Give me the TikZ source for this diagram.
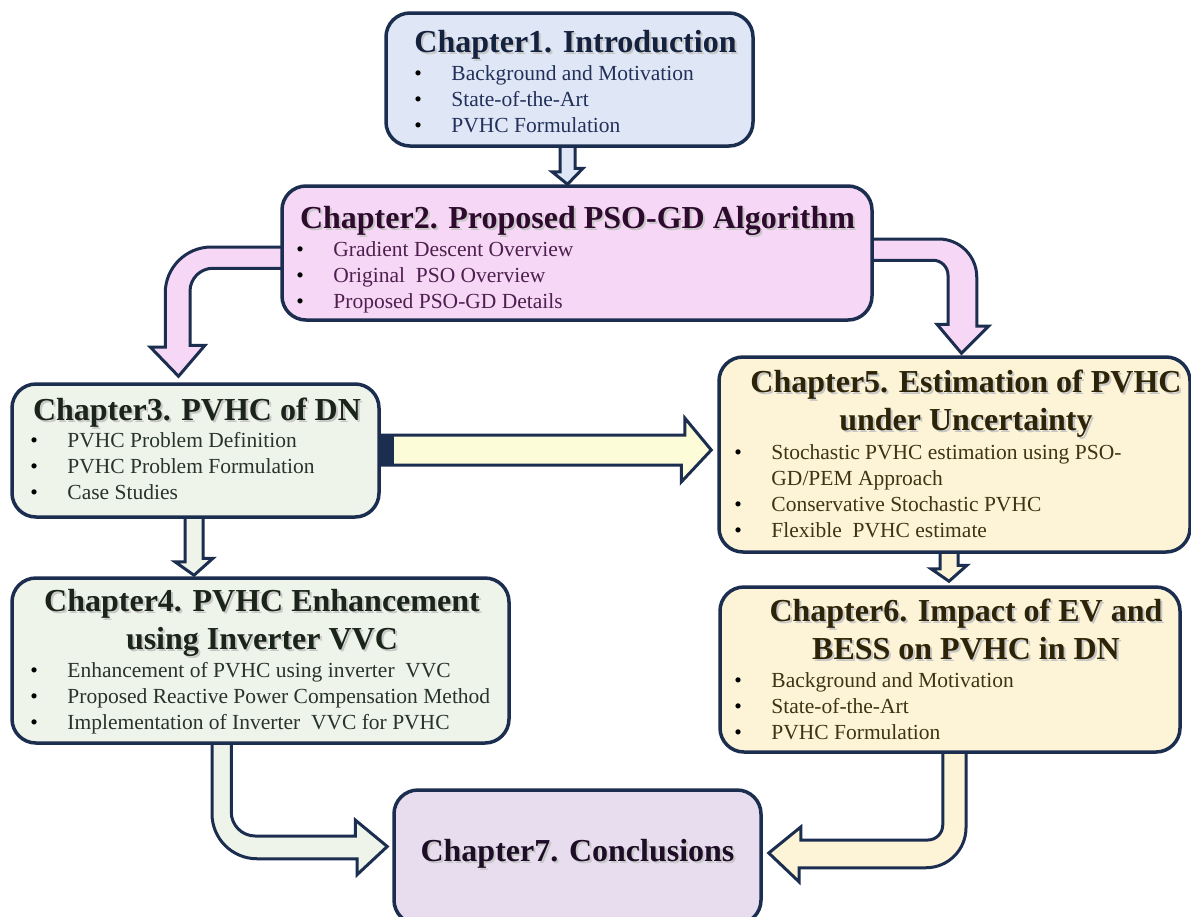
\documentclass[tikz,border=0pt]{standalone}
\usepackage{fontspec}
\setmainfont{Liberation Serif}
\usetikzlibrary{calc,backgrounds}

\definecolor{navy}{HTML}{1C2E50}
\definecolor{bluefill}{HTML}{DFE7F6}
\definecolor{pinkfill}{HTML}{F6D8F6}
\definecolor{greenfill}{HTML}{EFF4EA}
\definecolor{creamfill}{HTML}{FDF4D8}
\definecolor{lilacfill}{HTML}{E8DDEF}
\definecolor{lemonfill}{HTML}{FDFCD8}
\definecolor{bluetext}{HTML}{14213F}
\definecolor{blueitem}{HTML}{22305A}
\definecolor{pinktext}{HTML}{2E0A2E}
\definecolor{pinkitem}{HTML}{4E1F4E}
\definecolor{greentext}{HTML}{1A2419}
\definecolor{greenitem}{HTML}{28332A}
\definecolor{creamtext}{HTML}{2D2408}
\definecolor{creamitem}{HTML}{3E3312}
\definecolor{lilactext}{HTML}{1E0D26}

\newcommand{\shadowed}[1]{\leavevmode\rlap{\hspace{2pt}\raisebox{-2pt}{\color{black!22}#1}}#1}
\newcommand{\bul}{\makebox[37pt][l]{\color{black}\textbullet}}

\tikzset{
  chapter/.style={draw=navy, line width=3.5pt, rounded corners=24pt, inner sep=0pt},
  chaptitle/.style={font=\fontsize{32}{38}\selectfont\bfseries, inner sep=0pt, anchor=base},
  chapitems/.style={font=\fontsize{21.5}{26}\selectfont, inner sep=0pt, anchor=base west},
  blockarrow/.style={draw=navy, line width=3pt, line join=miter},
}

\begin{document}
\begin{tikzpicture}[x=1pt,y=-1pt]
      \useasboundingbox (0,0) rectangle (1191,916);

      \node[chapter, fill=bluefill, minimum width=367pt, minimum height=133pt] (ch1) at (569.5,79.5) {};
      \node[chapter, fill=pinkfill, minimum width=590pt, minimum height=134pt] (ch2) at (577,253) {};
      \node[chapter, fill=greenfill, minimum width=367pt, minimum height=133pt] (ch3) at (195.5,450.5) {};
      \node[chapter, fill=greenfill, minimum width=497pt, minimum height=165pt] (ch4) at (260.5,660.5) {};
      \node[chapter, fill=creamfill, minimum width=471pt, minimum height=195pt] (ch5) at (954.5,454.5) {};
      \node[chapter, fill=creamfill, minimum width=460pt, minimum height=165pt] (ch6) at (950,669.5) {};
      \node[chapter, fill=lilacfill, minimum width=367pt, minimum height=134pt] (ch7) at (577.5,857) {};

      \node[chaptitle, text=bluetext] (ch1title) at ($(ch1.north)+(6,41)$) {\shadowed{Chapter1. Introduction}};
      \node[chapitems, text=blueitem] (ch1list) at ($(ch1.north west)+(30,69)$)
        {\begin{tabular}[t]{@{}l@{}}\bul Background and Motivation\\ \bul State-of-the-Art\\ \bul PVHC Formulation\end{tabular}};

      \node[chaptitle, text=pinktext] (ch2title) at ($(ch2.north)+(0.5,44)$) {\shadowed{Chapter2. Proposed PSO-GD Algorithm}};
      \node[chapitems, text=pinkitem] (ch2list) at ($(ch2.north west)+(16,72)$)
        {\begin{tabular}[t]{@{}l@{}}\bul Gradient Descent Overview\\ \bul Original\ \ PSO Overview\\ \bul Proposed PSO-GD Details\end{tabular}};

      \node[chaptitle, text=greentext] (ch3title) at ($(ch3.north)+(1.5,38)$) {\shadowed{Chapter3. PVHC of DN}};
      \node[chapitems, text=greenitem] (ch3list) at ($(ch3.north west)+(20,65)$)
        {\begin{tabular}[t]{@{}l@{}}\bul PVHC Problem Definition\\ \bul PVHC Problem Formulation\\ \bul Case Studies\end{tabular}};

      \node[chaptitle, text=greentext] (ch4title) at ($(ch4.north)+(1.5,35)$)
        {\begin{tabular}[t]{@{}c@{}}\shadowed{Chapter4. PVHC Enhancement}\\ \shadowed{using Inverter VVC}\end{tabular}};
      \node[chapitems, text=greenitem] (ch4list) at ($(ch4.north west)+(20,101)$)
        {\begin{tabular}[t]{@{}l@{}}\bul Enhancement of PVHC using inverter\ \ VVC\\ \bul Proposed Reactive Power Compensation Method\\ \bul Implementation of Inverter\ \ VVC for PVHC\end{tabular}};

      \node[chaptitle, text=creamtext] (ch5title) at ($(ch5.north)+(11.5,37)$)
        {\begin{tabular}[t]{@{}c@{}}\shadowed{Chapter5. Estimation of PVHC}\\ \shadowed{under Uncertainty}\end{tabular}};
      \node[chapitems, text=creamitem] (ch5list) at ($(ch5.north west)+(17,104)$)
        {\begin{tabular}[t]{@{}l@{}}\bul Stochastic PVHC estimation using PSO-\\ \hspace*{37pt}GD/PEM Approach\\ \bul Conservative Stochastic PVHC\\ \bul Flexible\ \ PVHC estimate\end{tabular}};

      \node[chaptitle, text=creamtext] (ch6title) at ($(ch6.north)+(16,36)$)
        {\begin{tabular}[t]{@{}c@{}}\shadowed{Chapter6. Impact of EV and}\\ \shadowed{BESS on PVHC in DN}\end{tabular}};
      \node[chapitems, text=creamitem] (ch6list) at ($(ch6.north west)+(16,102)$)
        {\begin{tabular}[t]{@{}l@{}}\bul Background and Motivation\\ \bul State-of-the-Art\\ \bul PVHC Formulation\end{tabular}};

      \node[chaptitle, text=lilactext] (ch7title) at ($(ch7.center)+(0,4)$) {\shadowed{Chapter7. Conclusions}};

      \begin{scope}[on background layer]
      \fill[white] (0,0) rectangle (1191,916);
      \draw[blockarrow, fill=bluefill] ($(ch1.south)+(-9.5,-20)$) -- ++(0,44) -- ++(-8,0)
        -- ($(ch1.south |- ch2.north)+(-2,0)$) -- ++(15.5,-16) -- ++(-8,0) -- ++(0,-44) -- cycle;
      \draw[blockarrow, fill=pinkfill] ($(ch2.west)+(18,-6)$) -- ++(-87,0)
        arc[start angle=-90, end angle=-180, radius=46] -- ++(0,54) -- ++(-15,0)
        -- ($(ch3.north)+(-17,-6)$) -- ++(26.5,-31) -- ++(-15,0) -- ++(0,-54)
        arc[start angle=180, end angle=270, radius=23] -- ++(87,0) -- cycle;
      \draw[blockarrow, fill=pinkfill] ($(ch2.east)+(-17,-14)$) -- ++(82,0)
        arc[start angle=-90, end angle=0, radius=38] -- ++(0,49) -- ++(12,0)
        -- ($(ch5.north)+(7,-2)$) -- ++(-24.5,-29) -- ++(11,0) -- ++(0,-49)
        arc[start angle=0, end angle=-90, radius=15] -- ++(-78,0) -- cycle;
      \draw[blockarrow, fill=greenfill] ($(ch3.south)+(-10.5,-15)$) -- ++(0,58) -- ++(-10,0)
        -- ($(ch3.south |- ch4.north)+(-1.5,-1)$) -- ++(19,-17) -- ++(-10,0) -- ++(0,-58) -- cycle;
      \draw[blockarrow, fill=lemonfill] ($(ch3.east)+(-10,-15.5)$) -- ++(314,0) -- ++(0,-17)
        -- ($(ch3.east -| ch5.west)+(-6,-0.5)$) -- ++(-30,32) -- ++(0,-17) -- ++(-314,0) -- cycle;
      \fill[navy] ($(ch3.east)+(0,-15.5)$) rectangle ++(13,31);
      \draw[blockarrow, fill=creamfill] ($(ch5.south)+(-14.5,-12)$) -- ++(0,27) -- ++(-9,0)
        -- ($(ch5.south |- ch6.north)+(-5.5,-4)$) -- ++(18,-16) -- ++(-9,0) -- ++(0,-27) -- cycle;
      \draw[blockarrow, fill=greenfill] ($(ch4.south)+(-48.5,-13)$) -- ++(0,82)
        arc[start angle=180, end angle=90, radius=45] -- ++(100,0) -- ++(0,16)
        -- ($(ch7.west)+(-5,-10.5)$) -- ++(-32,-26.5) -- ++(0,16) -- ++(-100,0)
        arc[start angle=90, end angle=180, radius=24] -- ++(0,-82) -- cycle;
      \draw[blockarrow, fill=creamfill] ($(ch6.south)+(16,-12)$) -- ++(0,86)
        arc[start angle=0, end angle=90, radius=40] -- ++(-127,0) -- ++(0,14)
        -- ($(ch7.east)+(6,-4)$) -- ++(32,-26) -- ++(0,13) -- ++(127,0)
        arc[start angle=90, end angle=0, radius=15] -- ++(0,-85) -- cycle;
      \end{scope}
    \end{tikzpicture}
\end{document}
